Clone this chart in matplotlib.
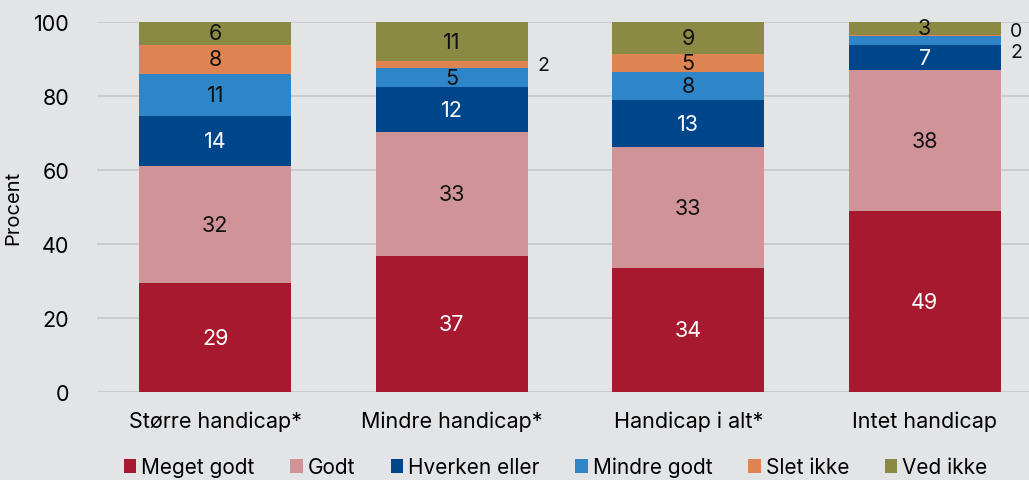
import numpy as np
import matplotlib
matplotlib.use("Agg")
import matplotlib.pyplot as plt

plt.rcParams['font.family'] = ['Inter', 'DejaVu Sans']

# data
groups = ["Større handicap*", "Mindre handicap*", "Handicap i alt*", "Intet handicap"]
cats = ["Meget godt", "Godt", "Hverken eller", "Mindre godt", "Slet ikke", "Ved ikke"]
meget_godt = [29.4, 36.8, 33.5, 48.9]
godt = [31.7, 33.4, 32.7, 38.1]
hverken = [13.6, 12.1, 12.7, 6.8]
mindre_godt = [11.3, 5.2, 7.6, 2.4]
slet_ikke = [7.8, 1.9, 4.9, 0.4]
ved_ikke = [6.2, 10.6, 8.6, 3.4]

colors = ["#a6192e", "#cf9398", "#00468b", "#2e86c8", "#dd8452", "#8a8a45"]
txt_colors = ["white", "#111111", "white", "#111111", "#111111", "#111111"]

series = [meget_godt, godt, hverken, mindre_godt, slet_ikke, ved_ikke]

bg = "#e3e4e6"
fig = plt.figure(figsize=(10.29, 4.81), dpi=100, facecolor=bg)
ax = fig.add_axes([97 / 1029, 88 / 481, 946 / 1029, 370 / 481])
ax.set_facecolor(bg)

x = np.arange(len(groups))
w = 0.643
bottom = np.zeros(len(groups))
for i, (vals, c) in enumerate(zip(series, colors)):
    vals = np.array(vals)
    ax.bar(x, vals, w, bottom=bottom, color=c, label=cats[i], zorder=3)
    for j, v in enumerate(vals):
        lbl = "%.0f" % v
        mid = bottom[j] + v / 2
        if v < 3:
            # small segments labelled outside the bar
            off = 0
            if j == 3 and i == 3:
                off = -3
            if j == 3 and i == 4:
                off = 1.3
            ax.text(x[j] + w / 2 + 0.04, mid + off, lbl, ha='left', va='center',
                    fontsize=14, color="#111111", zorder=4)
        else:
            ax.text(x[j], mid, lbl, ha='center', va='center', fontsize=15.5,
                    color=txt_colors[i], zorder=4)
    bottom += vals

ax.set_xlim(-0.5, 3.5)
ax.set_ylim(0, 100)
ax.set_yticks(range(0, 101, 20))
ax.yaxis.grid(True, color="#c6c7c9", linewidth=1.2, zorder=0)
ax.set_xticks(x)
ax.set_xticklabels(groups, fontsize=15.5)
ax.tick_params(axis='y', labelsize=15.5, length=0, pad=20)
ax.tick_params(axis='x', length=0, pad=13)
for s in ax.spines.values():
    s.set_visible(False)
ax.set_ylabel("Procent", fontsize=14.5, labelpad=8)

fig.legend(loc='center', bbox_to_anchor=(0.54, 13 / 481), ncol=6, frameon=False,
           fontsize=15, handlelength=0.6, handleheight=0.6, handletextpad=0.25,
           columnspacing=1.7)

fig.savefig("out.png", dpi=100, facecolor=bg)
